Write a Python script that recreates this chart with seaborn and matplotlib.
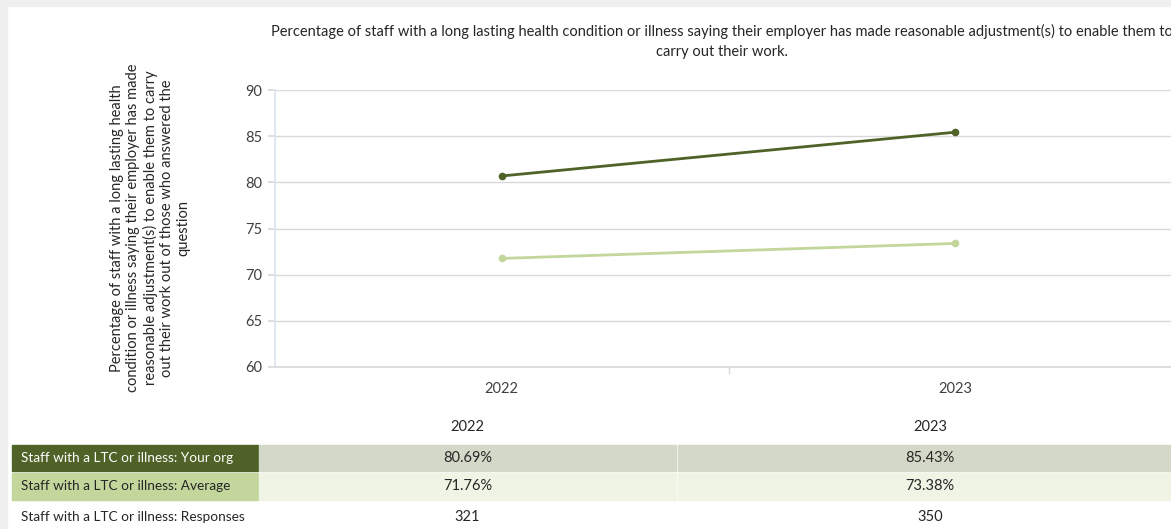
import matplotlib
matplotlib.use("Agg")
import matplotlib.pyplot as plt
import seaborn as sns
import pandas as pd
from matplotlib.patches import Rectangle

# Survey results
years = ["2022", "2023"]
your_org = [80.69, 85.43]
average = [71.76, 73.38]
responses = [321, 350]
series_names = [
    "Staff with a LTC or illness: Your org",
    "Staff with a LTC or illness: Average",
    "Staff with a LTC or illness: Responses",
]
title = ("Percentage of staff with a long lasting health condition or illness saying their "
         "employer has made reasonable adjustment(s) to enable them to\ncarry out their work.")
ylabel = ("Percentage of staff with a long lasting health\n"
          "condition or illness saying their employer has made\n"
          "reasonable adjustment(s) to enable them to carry\n"
          "out their work out of those who answered the\n"
          "question")
yticks = [60, 65, 70, 75, 80, 85, 90]

DARK = "#4f6228"
LIGHT = "#c3d69b"
TXT = "#262626"

sns.set_theme(style="white")
plt.rcParams["font.family"] = ["Lato", "DejaVu Sans"]

W, H = 1171, 529
fig = plt.figure(figsize=(W / 100, H / 100), dpi=100)
fig.patch.set_facecolor("white")


def fx(px):
    return px / W


def fy(py):
    return 1 - py / H


# light frame at top and left
fig.patches.append(Rectangle((0, fy(6)), 1, 6 / H, transform=fig.transFigure,
                             color="#f0f0f0", zorder=0))
fig.patches.append(Rectangle((0, 0), fx(7), 1, transform=fig.transFigure,
                             color="#f0f0f0", zorder=0))

ax = fig.add_axes([fx(275), fy(367), (1182 - 275) / W, (367 - 90) / H])
ax.set_facecolor("white")

df = pd.DataFrame({
    "year": years * 2,
    "value": your_org + average,
    "series": [series_names[0]] * 2 + [series_names[1]] * 2,
})
sns.lineplot(data=df, x="year", y="value", hue="series",
             palette=[DARK, LIGHT], marker="o", markersize=5.5, markeredgewidth=0,
             linewidth=2.0, legend=False, ax=ax)

ax.set_xlim(-0.5, 1.5)
ax.set_ylim(60, 90)
ax.set_yticks(yticks)
ax.set_xlabel("")
ax.set_ylabel("")
ax.grid(axis="y", color="#d9d9d9", linewidth=1)
ax.grid(axis="x", visible=False)
for s in ["top", "right"]:
    ax.spines[s].set_visible(False)
ax.spines["left"].set_color("#dbe5f1")
ax.spines["bottom"].set_color("#d9d9d9")
ax.tick_params(axis="y", left=True, length=5, color="#d9d9d9", labelsize=10.5,
               labelcolor="#404040", pad=4)
ax.tick_params(axis="x", bottom=False, length=0, labelsize=10.5, labelcolor="#404040",
               pad=11)
# category separator ticks on the x axis
ax.set_xticks([0.5], minor=True)
ax.tick_params(axis="x", which="minor", bottom=True, length=5, color="#d9d9d9")

fig.text(fx(722), fy(41), title, ha="center", va="center", fontsize=10.5,
         color=TXT, linespacing=1.55)
fig.text(fx(150), fy(228), ylabel, ha="center", va="center", rotation=90,
         fontsize=10.5, color=TXT, linespacing=1.2)

# data table under the chart
col_x = [(259, 676), (678, 1182)]
col_centers = [(a + b) / 2 for a, b in col_x]
rows = [(445, 471), (473, 500)]
label_bg = [DARK, LIGHT]
cell_bg = ["#d4d8c8", "#eff4e4"]
label_fg = ["white", TXT]

for i, yr in enumerate(years):
    fig.text(fx(col_centers[i]), fy(427), yr, ha="center", va="center",
             fontsize=10.5, color=TXT)

values = [your_org, average]
for r, (top, bot) in enumerate(rows):
    fig.patches.append(Rectangle((fx(12), fy(bot)), (258 - 12) / W, (bot - top) / H,
                                 transform=fig.transFigure, color=label_bg[r], zorder=1))
    fig.text(fx(21), fy((top + bot) / 2), series_names[r], ha="left", va="center",
             fontsize=9.8, color=label_fg[r], zorder=2)
    for c, (a, b) in enumerate(col_x):
        fig.patches.append(Rectangle((fx(a), fy(bot)), (b - a) / W, (bot - top) / H,
                                     transform=fig.transFigure, color=cell_bg[r], zorder=1))
        fig.text(fx(col_centers[c]), fy((top + bot) / 2), f"{values[r][c]:.2f}%",
                 ha="center", va="center", fontsize=10.5, color=TXT, zorder=2)

fig.text(fx(21), fy(517), series_names[2], ha="left", va="center",
         fontsize=9.8, color=TXT)
for c in range(len(years)):
    fig.text(fx(col_centers[c]), fy(517), str(responses[c]), ha="center", va="center",
             fontsize=10.5, color=TXT)

fig.savefig("out.png", dpi=100)
